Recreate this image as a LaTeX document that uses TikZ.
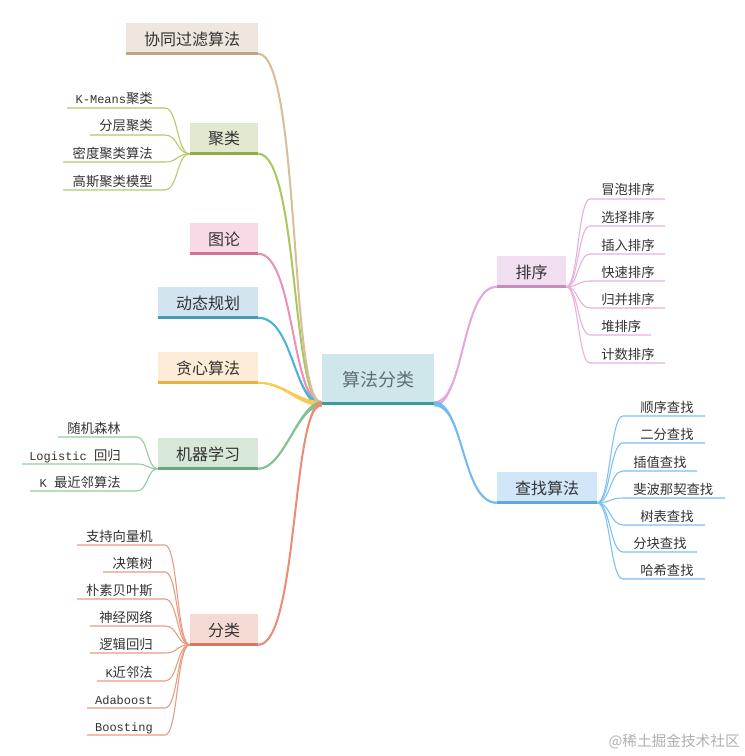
\documentclass[tikz,border=0pt]{standalone}
\usepackage{fontspec}
\setmainfont{Noto Sans CJK SC}
\newfontfamily\monof{Liberation Mono}
\usetikzlibrary{calc}
\definecolor{textc}{HTML}{333333}
\definecolor{cenf}{HTML}{CFE6EA}\definecolor{cenb}{HTML}{3E9A9A}\definecolor{cent}{HTML}{5F6F70}
\definecolor{xtf}{HTML}{EFE7DD}\definecolor{xtb}{HTML}{BFA584}\definecolor{xtl}{HTML}{D8BE98}
\definecolor{jlf}{HTML}{E1E9D1}\definecolor{jlb}{HTML}{8EAD45}\definecolor{jll}{HTML}{A9C75C}
\definecolor{tlf}{HTML}{F7DAE6}\definecolor{tlb}{HTML}{CF7397}\definecolor{tll}{HTML}{EC8FB9}
\definecolor{dtf}{HTML}{D1E4F0}\definecolor{dtb}{HTML}{4A9AB6}\definecolor{dtl}{HTML}{4EB3DB}
\definecolor{txf}{HTML}{FEEDD6}\definecolor{txb}{HTML}{E5B344}\definecolor{txl}{HTML}{F9CA4F}
\definecolor{mlf}{HTML}{D7E7D8}\definecolor{mlb}{HTML}{6BA77B}\definecolor{mll}{HTML}{82C191}
\definecolor{flf}{HTML}{F5DAD4}\definecolor{flb}{HTML}{D17B62}\definecolor{fll}{HTML}{E98D74}
\definecolor{pxf}{HTML}{F1DEF0}\definecolor{pxb}{HTML}{C58FB9}\definecolor{pxl}{HTML}{E2A9D9}
\definecolor{czf}{HTML}{D1E6F8}\definecolor{czb}{HTML}{5FA7DF}\definecolor{czl}{HTML}{72BAF1}
\definecolor{jlk}{HTML}{B0CC68}\definecolor{mlk}{HTML}{92CB9E}\definecolor{flk}{HTML}{EA9A80}
\definecolor{pxk}{HTML}{E6B0DC}\definecolor{czk}{HTML}{7DC0F2}
\definecolor{wmc}{HTML}{B0B0B0}
\newcommand\mylat[1]{{\fontsize{9}{10}\selectfont\monof #1}}
% tapered main connector: #1 colour, #2 thin end, #3 thick end, #4 ctrl dx at thin end, #5 ctrl dx at thick end
\newcommand\mainlink[5]{%
  \draw[#1, line width=1.5pt] ($#2$) .. controls +(#4,0) and +(#5,0) .. ($#3$);
  \fill[#1] ($#2+(0,-0.9)$) .. controls +(#4,0) and +(#5,0) .. ($#3+(0,-2.6)$)
    -- ($#3+(0,2.6)$) .. controls +(#5,0) and +(#4,0) .. ($#2+(0,0.9)$) -- cycle;}
% leaf on the left: #1 name, #2 outer x, #3 inner x, #4 y, #5 text right x, #6 text
\newcommand\leftkid[6]{%
  \coordinate (#1-o) at (#2,#4);
  \coordinate (#1-i) at (#3,#4);
  \node[kid, anchor=base east] (#1) at (#5,#4-4) {#6};}
% leaf on the right: #1 name, #2 inner x, #3 outer x, #4 y, #5 text left x, #6 text
\newcommand\rightkid[6]{%
  \coordinate (#1-i) at (#2,#4);
  \coordinate (#1-o) at (#3,#4);
  \node[kid, anchor=base west] (#1) at (#5,#4-4) {#6};}
\tikzset{
  pbox/.style={inner sep=0pt, minimum height=24pt, text=textc, font=\fontsize{12}{14}\selectfont},
  kid/.style={inner sep=0pt, text=textc, font=\fontsize{10}{12}\selectfont},
  kidlink/.style={line width=0.8pt},
  barline/.style={line width=2.25pt},
}
\begin{document}
\begin{tikzpicture}[x=0.75pt,y=-0.75pt]
\useasboundingbox[fill=white] (0,0) rectangle (745,756);

% centre
\node[inner sep=0pt, fill=cenf, minimum width=84pt, minimum height=38.25pt, text=cent,
      font=\fontsize{13.5}{16}\selectfont] (c) at (378,379.5) {算法分类};

% main topics
\node[pbox, fill=xtf, minimum width=99pt] (xt) at (192,39) {协同过滤算法};
\node[pbox, fill=jlf, minimum width=51pt] (jl) at (224,139) {聚类};
\node[pbox, fill=tlf, minimum width=51pt] (tl) at (224,239) {图论};
\node[pbox, fill=dtf, minimum width=75pt] (dt) at (208,303) {动态规划};
\node[pbox, fill=txf, minimum width=75pt] (tx) at (208,368) {贪心算法};
\node[pbox, fill=mlf, minimum width=75pt] (ml) at (208,454) {机器学习};
\node[pbox, fill=flf, minimum width=51pt] (fl) at (224,630) {分类};
\node[pbox, fill=pxf, minimum width=51.75pt] (px) at (531.5,272) {排序};
\node[pbox, fill=czf, minimum width=75pt] (cz) at (547,488) {查找算法};

% main connectors
\mainlink{jll}{(jl.south east)+(0,-1.5)}{(c.south west)+(0,-1.5)}{40}{-30}
\mainlink{tll}{(tl.south east)+(0,-1.5)}{(c.south west)+(0,-1.5)}{36}{-30}
\mainlink{dtl}{(dt.south east)+(0,-1.5)}{(c.south west)+(0,-1.5)}{35}{-28}
\mainlink{txl}{(tx.south east)+(0,-1.5)}{(c.south west)+(0,-1.5)}{26}{-24}
\mainlink{xtl}{(xt.south east)+(0,-1.5)}{(c.south west)+(0,-1.5)}{42}{-32}
\mainlink{mll}{(ml.south east)+(0,-1.5)}{(c.south west)+(0,-1.5)}{26}{-24}
\mainlink{fll}{(fl.south east)+(0,-1.5)}{(c.south west)+(0,-1.5)}{40}{-30}
\mainlink{pxl}{(px.south west)+(0,-1.5)}{(c.south east)+(0,-1.5)}{-35}{30}
\mainlink{czl}{(cz.south west)+(0,-1.5)}{(c.south east)+(0,-1.5)}{-35}{30}

% bars
\draw[barline, draw=cenb] ($(c.south west)+(0,-1.5)$) -- ($(c.south east)+(0,-1.5)$);
\draw[barline, draw=xtb] ($(xt.south west)+(0,-1.5)$) -- ($(xt.south east)+(0,-1.5)$);
\draw[barline, draw=jlb] ($(jl.south west)+(0,-1.5)$) -- ($(jl.south east)+(0,-1.5)$);
\draw[barline, draw=tlb] ($(tl.south west)+(0,-1.5)$) -- ($(tl.south east)+(0,-1.5)$);
\draw[barline, draw=dtb] ($(dt.south west)+(0,-1.5)$) -- ($(dt.south east)+(0,-1.5)$);
\draw[barline, draw=txb] ($(tx.south west)+(0,-1.5)$) -- ($(tx.south east)+(0,-1.5)$);
\draw[barline, draw=mlb] ($(ml.south west)+(0,-1.5)$) -- ($(ml.south east)+(0,-1.5)$);
\draw[barline, draw=flb] ($(fl.south west)+(0,-1.5)$) -- ($(fl.south east)+(0,-1.5)$);
\draw[barline, draw=pxb] ($(px.south west)+(0,-1.5)$) -- ($(px.south east)+(0,-1.5)$);
\draw[barline, draw=czb] ($(cz.south west)+(0,-1.5)$) -- ($(cz.south east)+(0,-1.5)$);

% clustering leaves
\leftkid{j1}{67}{165}{108}{153}{\mylat{K-Means}聚类}
\leftkid{j2}{90}{165}{135}{153}{分层聚类}
\leftkid{j3}{63}{165}{162}{153}{密度聚类算法}
\leftkid{j4}{63}{165}{190}{153}{高斯聚类模型}
\foreach \k in {j1,j2,j3,j4}
  \draw[kidlink, draw=jlk] ($(jl.south west)+(0,-1.5)$) .. controls +(-13,0) and +(13,0) .. (\k-i) -- (\k-o);

% machine learning leaves
\leftkid{m1}{58}{137}{437}{121}{随机森林}
\leftkid{m2}{22}{137}{464}{121}{\mylat{Logistic }回归}
\leftkid{m3}{30}{137}{491}{121}{\mylat{K }最近邻算法}
\foreach \k in {m1,m2,m3}
  \draw[kidlink, draw=mlk] ($(ml.south west)+(0,-1.5)$) .. controls +(-11,0) and +(11,0) .. (\k-i) -- (\k-o);

% classification leaves
\leftkid{f1}{77}{165}{545}{153}{支持向量机}
\leftkid{f2}{103}{165}{572}{153}{决策树}
\leftkid{f3}{77}{165}{599}{153}{朴素贝叶斯}
\leftkid{f4}{90}{165}{626}{153}{神经网络}
\leftkid{f5}{90}{165}{653}{153}{逻辑回归}
\leftkid{f6}{97}{165}{681}{153}{\mylat{K}近邻法}
\leftkid{f7}{87}{165}{708}{153}{\mylat{Adaboost}}
\leftkid{f8}{87}{165}{735}{153}{\mylat{Boosting}}
\foreach \k in {f1,f2,f3,f4,f5,f6,f7,f8}
  \draw[kidlink, draw=flk] ($(fl.south west)+(0,-1.5)$) .. controls +(-13,0) and +(13,0) .. (\k-i) -- (\k-o);

% sorting leaves
\rightkid{p1}{590}{665}{199}{601}{冒泡排序}
\rightkid{p2}{590}{665}{226}{601}{选择排序}
\rightkid{p3}{590}{665}{254}{601}{插入排序}
\rightkid{p4}{590}{665}{281}{601}{快速排序}
\rightkid{p5}{590}{665}{308}{601}{归并排序}
\rightkid{p6}{590}{651}{335}{601}{堆排序}
\rightkid{p7}{590}{665}{363}{601}{计数排序}
\foreach \k in {p1,p2,p3,p4,p5,p6,p7}
  \draw[kidlink, draw=pxk] ($(px.south east)+(0,-1.5)$) .. controls +(12,0) and +(-12,0) .. (\k-i) -- (\k-o);

% searching leaves
\rightkid{s1}{623}{705}{416}{640}{顺序查找}
\rightkid{s2}{623}{705}{443}{640}{二分查找}
\rightkid{s3}{623}{697}{471}{633}{插值查找}
\rightkid{s4}{623}{725}{498}{633}{斐波那契查找}
\rightkid{s5}{623}{705}{525}{640}{树表查找}
\rightkid{s6}{623}{697}{552}{633}{分块查找}
\rightkid{s7}{623}{705}{579}{640}{哈希查找}
\foreach \k in {s1,s2,s3,s4,s5,s6,s7}
  \draw[kidlink, draw=czk] ($(cz.south east)+(0,-1.5)$) .. controls +(13,0) and +(-13,0) .. (\k-i) -- (\k-o);

% watermark
\node[inner sep=0pt, anchor=base east, text=wmc, font=\fontsize{11}{13}\selectfont] (wm) at (740,746) {@稀土掘金技术社区};
\end{tikzpicture}
\end{document}
